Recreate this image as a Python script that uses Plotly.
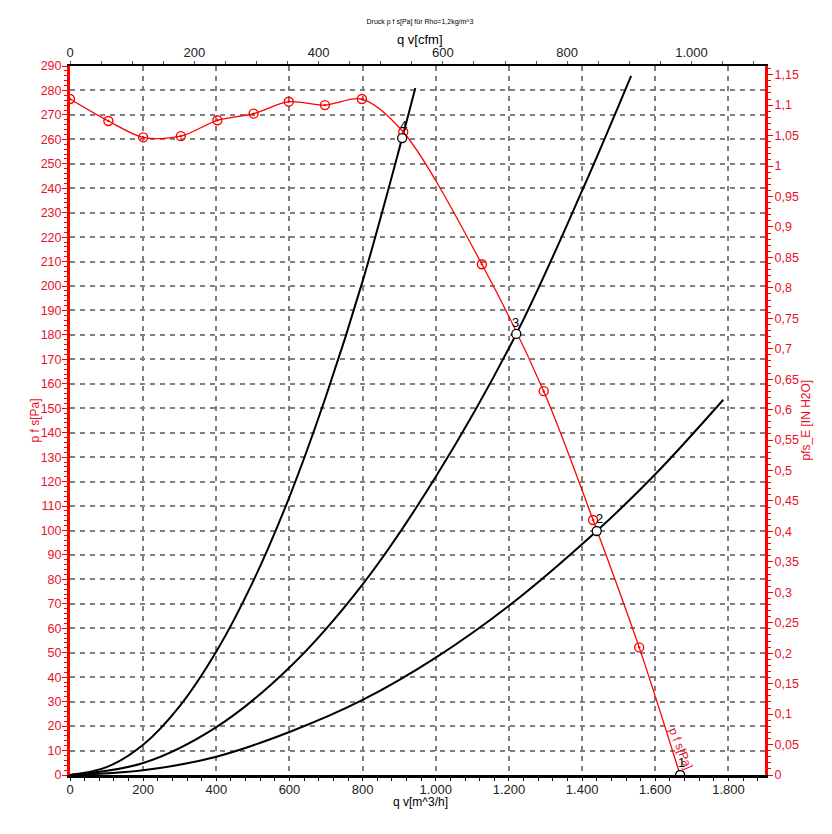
import plotly.graph_objects as go

# ---- data ----
# Fan curve p_fs [Pa] vs q_v [m^3/h]
fan_q = [0, 105, 200, 303, 403, 502, 598, 697, 798, 911, 1126, 1295, 1430, 1556, 1668]
fan_p = [276.5, 267.5, 260.8, 261.3, 267.8, 270.5, 275.4, 274.0, 276.5, 263.0, 208.9, 157.0, 104.3, 52.2, 0.0]
# markers on fan curve (all but the last point)
fan_mark_q = fan_q[:-1]
fan_mark_p = fan_p[:-1]

# System curves
sysA_q = [0, 100, 200, 300, 400, 500, 600, 700, 800, 908, 944]
sysA_p = [0, 3.2, 12.4, 28.2, 50.5, 79.0, 113.8, 155.0, 202.0, 260.5, 281.0]
sysB_q = [0, 200, 400, 600, 800, 1000, 1220, 1400, 1534]
sysB_p = [0, 4.9, 19.6, 44.0, 78.0, 122.0, 180.4, 239.0, 286.0]
sysC_q = [0, 200, 400, 600, 800, 1000, 1200, 1440, 1600, 1786]
sysC_p = [0, 1.9, 7.5, 17.6, 30.7, 48.0, 69.2, 99.8, 123.0, 153.5]

# Operating points
op_q = [1668, 1440, 1220, 908]
op_p = [0.0, 99.8, 180.4, 260.5]
op_labels = ["1", "2", "3", "4"]
op_label_q = [1671, 1447, 1217, 913]
op_label_p = [5.0, 104.8, 185.0, 265.5]

# Axis ticks
x_tickvals = [0, 200, 400, 600, 800, 1000, 1200, 1400, 1600, 1800]
x_ticktext = ["0", "200", "400", "600", "800", "1.000", "1.200", "1.400", "1.600", "1.800"]
cfm_tickvals = [0, 200, 400, 600, 800, 1000]
cfm_ticktext = ["0", "200", "400", "600", "800", "1.000"]
inh2o_tickvals = [i * 0.05 for i in range(24)]
inh2o_ticktext = ["0"] + [("%.2f" % v).rstrip("0").rstrip(".").replace(".", ",") for v in inh2o_tickvals[1:]]

X_MAX = 1900
Y_MAX = 290
CFM_MAX = X_MAX / 1.69901
INH2O_MAX = Y_MAX / 249.089

RED = "#ff0000"
TXT_RED = "#e8102a"
FONT = "Liberation Sans, Arial, sans-serif"

W, H = 824, 826  # page body adds an 8px margin

fig = go.Figure()

for q, p in [(sysA_q, sysA_p), (sysB_q, sysB_p), (sysC_q, sysC_p)]:
    fig.add_trace(go.Scatter(x=q, y=p, mode="lines", line=dict(color="black", width=2, shape="spline", smoothing=1.0),
                             showlegend=False, hoverinfo="skip"))

fig.add_trace(go.Scatter(x=fan_q, y=fan_p, mode="lines", line=dict(color=RED, width=1.3, shape="spline", smoothing=0.9),
                         showlegend=False))
fig.add_trace(go.Scatter(x=fan_mark_q, y=fan_mark_p, mode="markers",
                         marker=dict(symbol="circle-dot", size=9, color="rgba(0,0,0,0)", line=dict(color=RED, width=1.4)),
                         showlegend=False))
fig.add_trace(go.Scatter(x=op_q, y=op_p, mode="markers",
                         marker=dict(symbol="circle", size=9, color="white", line=dict(color="black", width=1.3)),
                         showlegend=False))

# invisible traces to activate the secondary axes
fig.add_trace(go.Scatter(x=[0], y=[0], xaxis="x2", yaxis="y", mode="markers", marker=dict(opacity=0), showlegend=False, hoverinfo="skip"))
fig.add_trace(go.Scatter(x=[0], y=[0], xaxis="x", yaxis="y2", mode="markers", marker=dict(opacity=0), showlegend=False, hoverinfo="skip"))

for lab, q, p in zip(op_labels, op_label_q, op_label_p):
    fig.add_annotation(x=q, y=p, text=lab, showarrow=False, font=dict(family=FONT, size=13, color="black"))

fig.add_annotation(x=1669, y=11, text="p f s[Pa]", showarrow=False, textangle=68,
                   font=dict(family=FONT, size=12, color=TXT_RED))

# axis titles as paper annotations for exact placement
fig.add_annotation(xref="paper", yref="paper", x=0, y=0.5, xshift=-36, text="p f s[Pa]", textangle=-90,
                   showarrow=False, xanchor="center", yanchor="middle", font=dict(family=FONT, size=12, color=TXT_RED))
fig.add_annotation(xref="paper", yref="paper", x=1, y=0.5, xshift=40, text="pfs_E [IN H2O]", textangle=-90,
                   showarrow=False, xanchor="center", yanchor="middle", font=dict(family=FONT, size=12, color=TXT_RED))
fig.add_annotation(xref="paper", yref="paper", x=0.5036, y=1, yshift=27, text="q v[cfm]",
                   showarrow=False, xanchor="center", yanchor="middle", font=dict(family=FONT, size=13, color="black"))
fig.add_annotation(xref="paper", yref="paper", x=0.5036, y=0, yshift=-27, text="q v[m^3/h]",
                   showarrow=False, xanchor="center", yanchor="middle", font=dict(family=FONT, size=12, color="black"))

grid = dict(showgrid=True, gridcolor="#808080", gridwidth=1.5, griddash="5px,5px")

fig.update_layout(
    width=W, height=H,
    margin=dict(l=62, r=67, t=58, b=59, autoexpand=False),
    paper_bgcolor="white", plot_bgcolor="white",
    font=dict(family=FONT, size=13, color="black"),
    title=dict(text="Druck p f s[Pa] für Rho=1,2kg/m^3", x=(420 - 8) / W, xanchor="center", y=1 - 14 / H, yanchor="middle",
               font=dict(family=FONT, size=7, color="black")),
    xaxis=dict(range=[0, X_MAX], tickmode="array", tickvals=x_tickvals, ticktext=x_ticktext, automargin=False,
               showline=True, linecolor="black", linewidth=3, ticks="outside", ticklen=3, tickcolor="black",
               ticklabelstandoff=-3,
               minor=dict(dtick=40, tick0=0, ticks="outside", ticklen=3, tickcolor="black", showgrid=False),
               tickfont=dict(size=13, color="#222"), zeroline=False, **grid),
    xaxis2=dict(range=[0, CFM_MAX], overlaying="x", side="top", tickmode="array", tickvals=cfm_tickvals,
                ticktext=cfm_ticktext, showline=True, linecolor="black", linewidth=2, ticks="outside", ticklen=3,
                tickcolor="#555", automargin=False, ticklabelstandoff=-1,
                minor=dict(dtick=50, tick0=0, ticks="outside", ticklen=3, tickcolor="#555", showgrid=False),
                tickfont=dict(size=13, color="#222"), showgrid=False, zeroline=False),
    yaxis=dict(range=[0, Y_MAX], dtick=10, tick0=0, showline=True, linecolor=RED, linewidth=3, automargin=False,
               ticks="outside", ticklen=5, tickcolor=RED, ticklabelstandoff=-2,
               minor=dict(dtick=2, tick0=0, ticks="outside", ticklen=3, tickcolor=RED, showgrid=False),
               tickfont=dict(size=12.5, color=TXT_RED), zeroline=False, **grid),
    yaxis2=dict(range=[0, INH2O_MAX], overlaying="y", side="right", tickmode="array", tickvals=inh2o_tickvals,
                ticktext=inh2o_ticktext, showline=True, linecolor=RED, linewidth=3, automargin=False,
                ticks="outside", ticklen=5, tickcolor=RED, ticklabelstandoff=-1,
                minor=dict(dtick=0.01, tick0=0, ticks="outside", ticklen=3, tickcolor=RED, showgrid=False),
                tickfont=dict(size=12.5, color=TXT_RED), showgrid=False, zeroline=False),
)

fig.write_html("out.html")
